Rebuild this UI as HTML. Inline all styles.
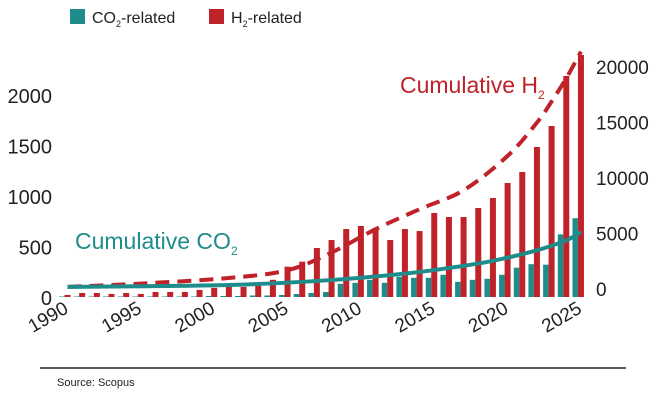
<!DOCTYPE html>
<html><head><meta charset="utf-8"><style>
body{margin:0;background:#fff;width:654px;height:406px;overflow:hidden}
svg{display:block;font-family:"Liberation Sans",sans-serif}
</style></head><body>
<svg id="chart" width="654" height="406" viewBox="0 0 654 406">
<g id="legend">
<rect x="70" y="9" width="15" height="15" fill="#1e8c8a"/>
<text x="92" y="23" font-size="16" fill="#222">CO<tspan font-size="9" dy="4">2</tspan><tspan dy="-4">-related</tspan></text>
<rect x="209" y="9" width="15" height="15" fill="#c0222a"/>
<text x="231" y="23" font-size="16" fill="#222">H<tspan font-size="9" dy="4">2</tspan><tspan dy="-4">-related</tspan></text>
</g>
<g id="bars"></g><g id="lines"></g><g id="axes"></g>
<text x="75" y="249" font-size="23" fill="#1e8c8a">Cumulative CO<tspan font-size="12" dy="6">2</tspan></text>
<text x="400" y="93" font-size="23" fill="#c0222a">Cumulative H<tspan font-size="12" dy="6">2</tspan></text>
<line x1="40" y1="368" x2="626" y2="368" stroke="#222" stroke-width="1.5"/>
<text x="57" y="386" font-size="11" fill="#222">Source: Scopus</text>
</svg>
<script>
const years=[1990,1991,1992,1993,1994,1995,1996,1997,1998,1999,2000,2001,2002,2003,2004,2005,2006,2007,2008,2009,2010,2011,2012,2013,2014,2015,2016,2017,2018,2019,2020,2021,2022,2023,2024,2025];
const h2Values=[20,40,40,30,40,30,50,50,50,70,90,100,100,120,170,300,350,485,564,673,703,683,564,673,653,832,792,792,881,980,1129,1238,1485,1693,2188,2396];
const co2Values=[5,5,5,5,5,5,5,5,5,5,10,10,10,15,15,20,30,40,50,130,140,170,140,200,190,190,220,150,170,180,220,290,325,320,620,780];
const cumH2Years=[1990,1995,2001,2005,2008,2011,2014,2017,2020,2022,2023,2024,2025];
const cumH2Values=[100,400,900,1600,3200,5300,7100,8800,11900,14900,16800,18900,21300];
const cumCo2Years=[1990,2001,2008,2013,2016,2019,2022,2024,2025];
const cumCo2Values=[100,270,720,1300,1800,2450,3400,4300,5050];
const leftTicks=[0,500,1000,1500,2000];
const rightTicks=[0,5000,10000,15000,20000];
const xTicks=[1990,1995,2000,2005,2010,2015,2020,2025];
const NS="http://www.w3.org/2000/svg";
const x=y=>67.5+(y-1990)*14.67;
const yL=v=>297-v*0.101;
const yR=v=>288-v*0.0111;
function mk(tag,attrs,parent){const e=document.createElementNS(NS,tag);for(const k in attrs)e.setAttribute(k,attrs[k]);parent.appendChild(e);return e;}
const bars=document.getElementById('bars'),lines=document.getElementById('lines'),axes=document.getElementById('axes');
years.forEach((yr,i)=>{
  const c=mk('rect',{x:x(yr)-8.5,y:yL(co2Values[i]),width:5.5,height:297-yL(co2Values[i]),fill:'#1e8c8a'},bars);
  
  
  const r=mk('rect',{x:x(yr)-3,y:yL(h2Values[i]),width:6,height:297-yL(h2Values[i]),fill:'#c0222a'},bars);
  
  
});
function pathOf(xs,vs){
  const p=xs.map((yr,i)=>[x(yr),yR(vs[i])]);
  let d='M'+p[0][0].toFixed(1)+','+p[0][1].toFixed(1);
  for(let i=0;i<p.length-1;i++){
    const p0=p[i-1]||p[i],p1=p[i],p2=p[i+1],p3=p[i+2]||p2;
    const c1=[p1[0]+(p2[0]-p0[0])/6,p1[1]+(p2[1]-p0[1])/6];
    const c2=[p2[0]-(p3[0]-p1[0])/6,p2[1]-(p3[1]-p1[1])/6];
    d+=` C${c1[0].toFixed(1)},${c1[1].toFixed(1)} ${c2[0].toFixed(1)},${c2[1].toFixed(1)} ${p2[0].toFixed(1)},${p2[1].toFixed(1)}`;
  }
  return d;
}
const lh=mk('path',{d:pathOf(cumH2Years,cumH2Values),fill:'none',stroke:'#c0222a','stroke-width':4,'stroke-dasharray':'14,8'},lines);


const lc=mk('path',{d:pathOf(cumCo2Years,cumCo2Values),fill:'none',stroke:'#1e8c8a','stroke-width':4},lines);


leftTicks.forEach(v=>{const t=mk('text',{x:52,y:yL(v)+8,'font-size':20,'text-anchor':'end',fill:'#222'},axes);t.textContent=v;
  
  });
rightTicks.forEach(v=>{const t=mk('text',{x:596,y:yR(v)+8,'font-size':19,fill:'#222'},axes);t.textContent=v;
  
  });
xTicks.forEach(v=>{const t=mk('text',{x:x(v)+2,y:312,'font-size':19,'text-anchor':'end',fill:'#222',transform:`rotate(-30 ${x(v)+2} 312)`},axes);t.textContent=v;
  
  });
</script>
</body></html>
